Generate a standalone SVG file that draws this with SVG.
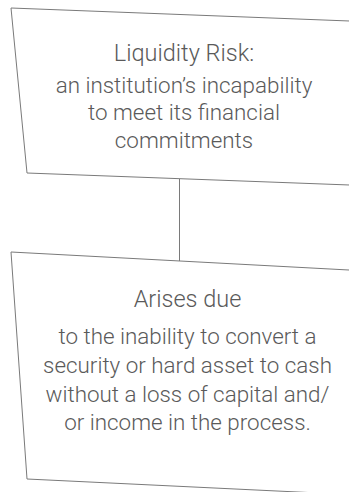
<svg xmlns="http://www.w3.org/2000/svg" width="349" height="492" viewBox="0 0 349 492">
  <style>
    .box { fill: #ffffff; stroke: #7a7a7a; stroke-width: 1; }
    .link { stroke: #7a7a7a; stroke-width: 1; fill: none; }
    text { font-family: Roboto, "Liberation Sans", sans-serif; font-weight: 300; fill: #5a5a5a; text-anchor: middle; }
    .title { font-size: 23.5px; }
    .body { font-size: 22.4px; }
  </style>
  <rect width="349" height="492" fill="#ffffff"/>
  <g id="connectors">
    <line class="link" x1="179.5" y1="179" x2="179.5" y2="261"/>
  </g>
  <g id="liquidity-risk">
    <polygon class="box" points="11,8 360,21.4 360,185.4 27,173"/>
    <text class="title" x="184" y="61">Liquidity Risk:</text>
    <text class="body" x="184" y="93">an institution’s incapability</text>
    <text class="body" x="184" y="120">to meet its financial</text>
    <text class="body" x="184" y="147.5">commitments</text>
  </g>
  <g id="arises-due">
    <polygon class="box" points="11,252 360,270.6 360,495 27,479"/>
    <text class="title" x="187.5" y="306.5">Arises due</text>
    <text class="body" x="187.5" y="343.5"> to the inability to convert a</text>
    <text class="body" x="187.5" y="373">security or hard asset to cash</text>
    <text class="body" x="187.5" y="401.5">without a loss of capital and/</text>
    <text class="body" x="187.5" y="430">or income in the process.</text>
  </g>
</svg>
